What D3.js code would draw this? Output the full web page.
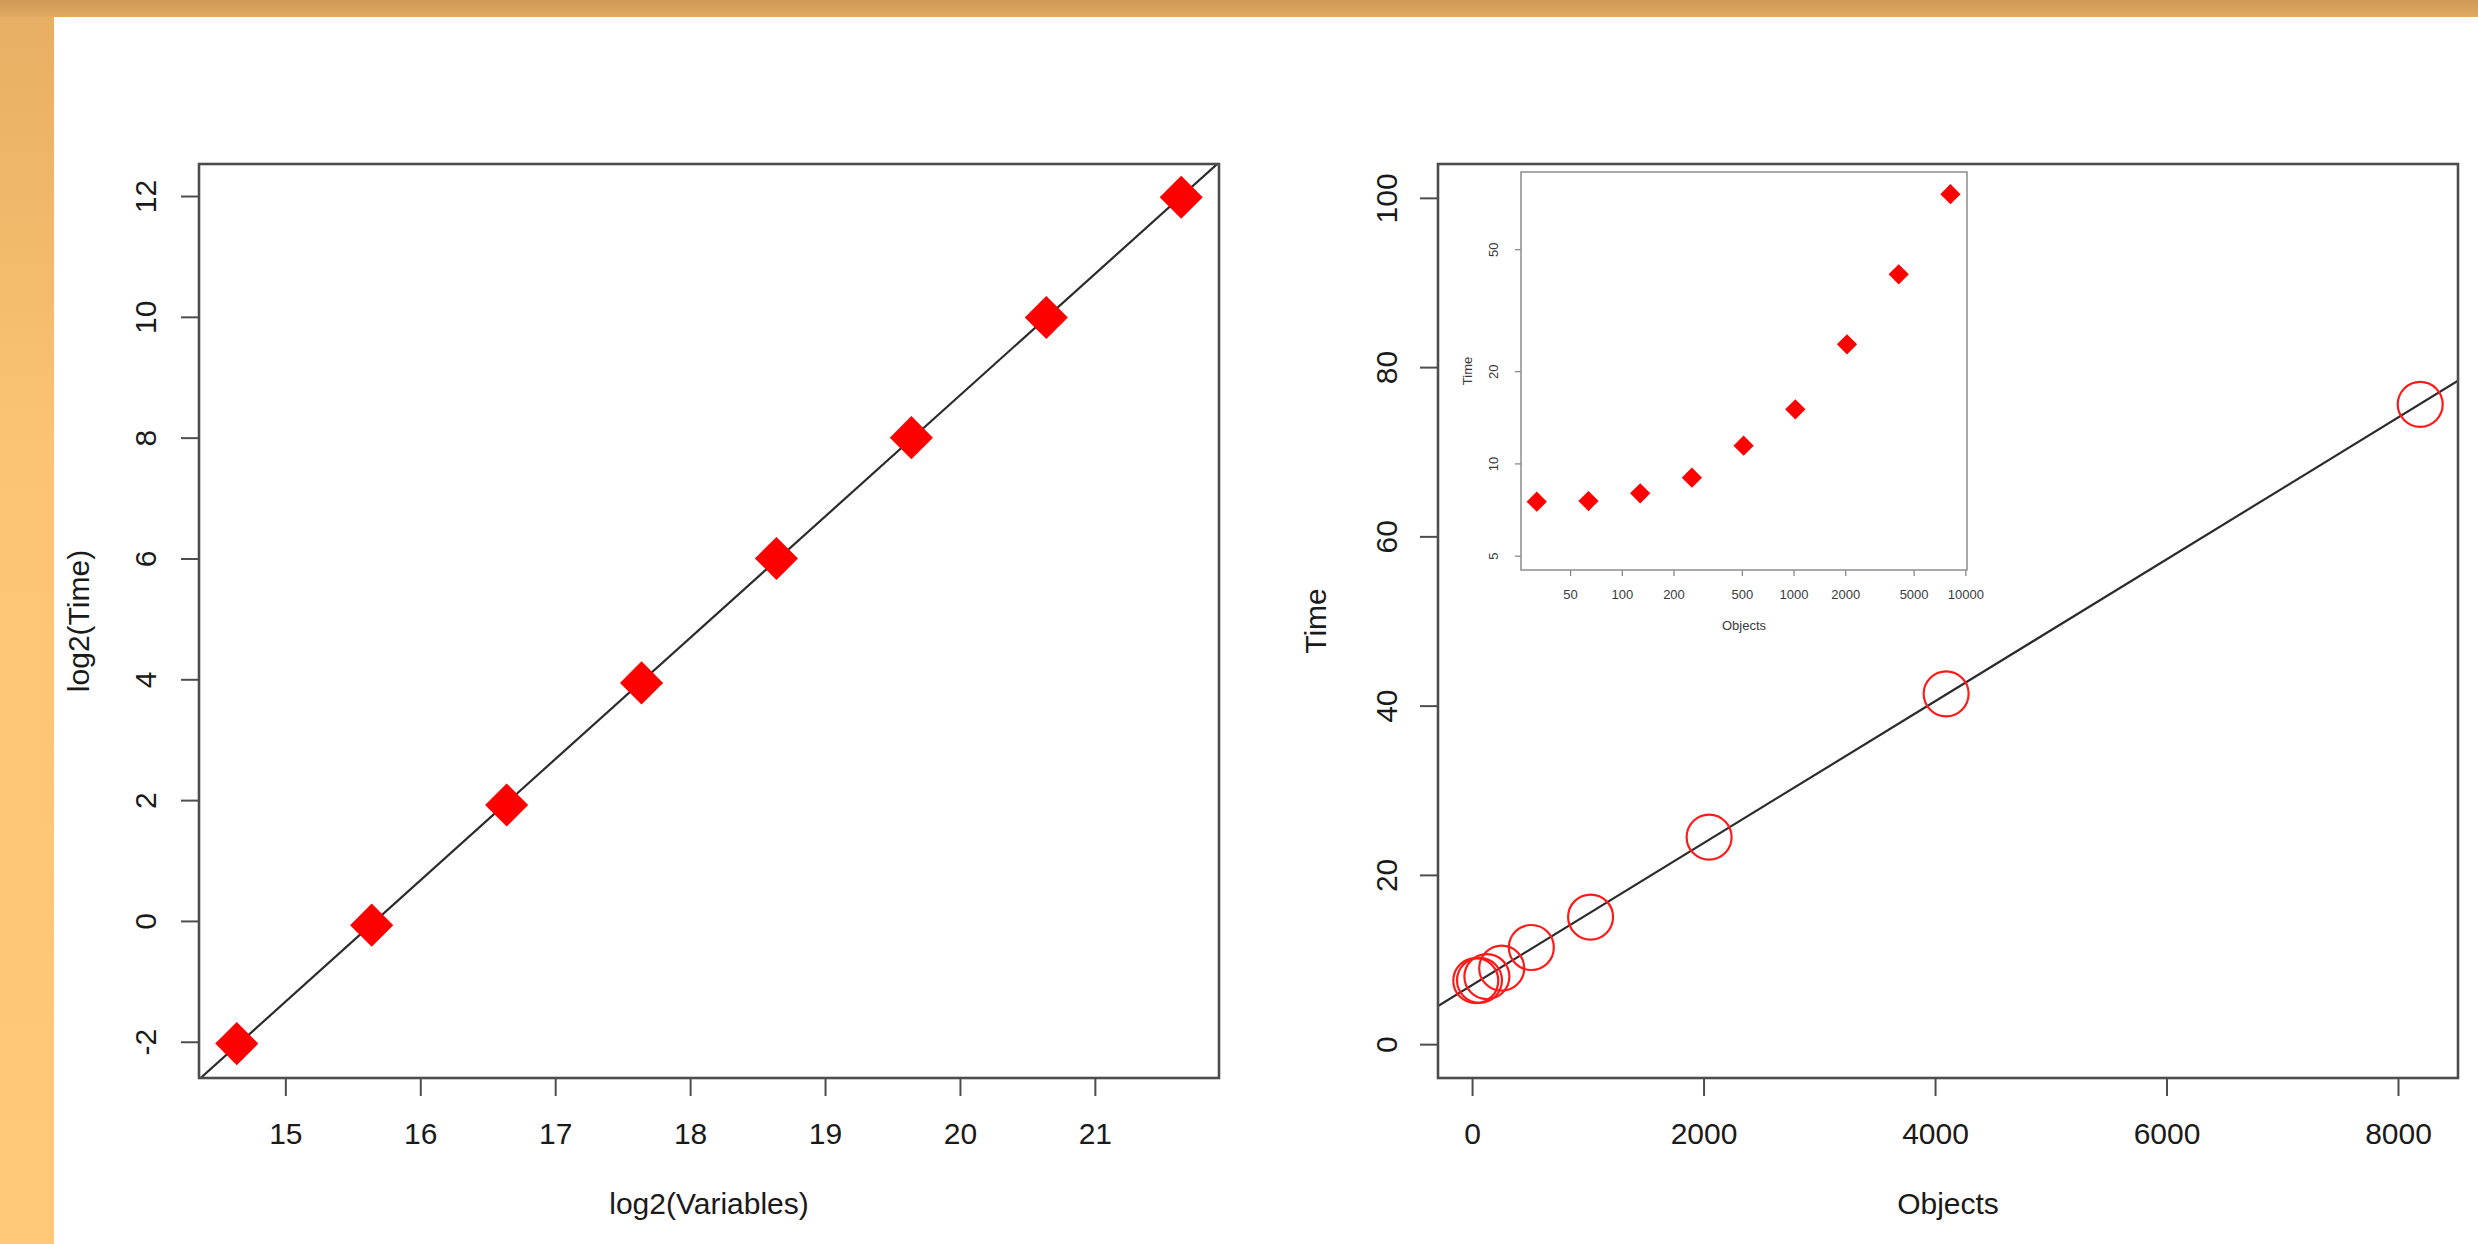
<!DOCTYPE html>
<html>
<head>
<meta charset="utf-8">
<script src="https://cdn.jsdelivr.net/npm/d3@7"></script>
<style>
  html, body { margin: 0; padding: 0; background: #fff; }
  svg { display: block; font-family: "Liberation Sans", Arial, Helvetica, sans-serif; }
</style>
</head>
<body>
<svg id="chart" width="2478" height="1244"></svg>
<script>
// left panel: log2 scale benchmark over variables
const log2Variables = [14.64, 15.64, 16.64, 17.64, 18.64, 19.64, 20.64, 21.64];
const log2Time = [-2.03, -0.07, 1.92, 3.94, 6.00, 8.00, 9.99, 11.98];
const leftXTicks = [15, 16, 17, 18, 19, 20, 21];
const leftYTicks = [-2, 0, 2, 4, 6, 8, 10, 12];

// right panel: time over objects (same data in the log-log inset)
const objects = [32, 64, 128, 256, 512, 1024, 2048, 4096, 8192];
const objTime = [7.50, 7.54, 7.99, 8.98, 11.42, 15.02, 24.46, 41.39, 75.6];
const rightXTicks = [0, 2000, 4000, 6000, 8000];
const rightYTicks = [0, 20, 40, 60, 80, 100];
const insetXTicks = [50, 100, 200, 500, 1000, 2000, 5000, 10000];
const insetYTicks = [5, 10, 20, 50];

const svg = d3.select("#chart");
const defs = svg.append("defs");

// page decoration (slide background)
const gTop = defs.append("linearGradient").attr("id", "gTop").attr("x1", 0).attr("y1", 0).attr("x2", 0).attr("y2", 1);
gTop.append("stop").attr("offset", "0%").attr("stop-color", "#d09856");
gTop.append("stop").attr("offset", "100%").attr("stop-color", "#e0aa63");
const gLeft = defs.append("linearGradient").attr("id", "gLeft").attr("x1", 0).attr("y1", 0).attr("x2", 0).attr("y2", 1);
gLeft.append("stop").attr("offset", "0%").attr("stop-color", "#e8ae63");
gLeft.append("stop").attr("offset", "35%").attr("stop-color", "#fcc373");
gLeft.append("stop").attr("offset", "100%").attr("stop-color", "#ffc977");

svg.append("rect").attr("x", 0).attr("y", 0).attr("width", 2478).attr("height", 1244).attr("fill", "#ffffff");
svg.append("rect").attr("x", 0).attr("y", 17).attr("width", 54).attr("height", 1227).attr("fill", "url(#gLeft)");
svg.append("rect").attr("x", 0).attr("y", 0).attr("width", 2478).attr("height", 17).attr("fill", "url(#gTop)");

const textColor = "#1a1a1a";
const frameColor = "#4d4d4d";
const plain = d => String(d); // R prints a plain hyphen for negatives

function styleAxis(g, opts) {
  g.select(".domain").remove();
  g.selectAll(".tick line").attr("stroke", opts.tickColor).attr("stroke-width", opts.tickWidth);
  g.selectAll(".tick text")
    .attr("fill", opts.textColor)
    .attr("font-size", opts.fontSize)
    .style("font-family", "'Liberation Sans', Arial, Helvetica, sans-serif");
}

function bottomAxis(g, scale, ticks, opts) {
  g.call(d3.axisBottom(scale).tickValues(ticks).tickFormat(plain).tickSize(opts.tickSize));
  styleAxis(g, opts);
  g.selectAll(".tick text").attr("y", opts.labelOffset).attr("dy", "0.35em");
}

function leftAxis(g, scale, ticks, opts) {
  g.call(d3.axisLeft(scale).tickValues(ticks).tickFormat(plain).tickSize(opts.tickSize));
  styleAxis(g, opts);
  g.selectAll(".tick text")
    .attr("x", 0).attr("y", 0).attr("dy", "0.35em")
    .attr("text-anchor", "middle")
    .attr("transform", `translate(${-opts.labelOffset},0) rotate(-90)`);
}

function fitLine(xs, ys) {
  const mx = d3.mean(xs), my = d3.mean(ys);
  const sxy = d3.sum(xs, (x, i) => (x - mx) * (ys[i] - my));
  const sxx = d3.sum(xs, x => (x - mx) * (x - mx));
  const b = sxy / sxx;
  return { a: my - b * mx, b: b };
}

const mainOpts = { tickSize: 18, tickColor: frameColor, tickWidth: 2, textColor: textColor, fontSize: 30 };

function panel(id, box, xDomain, yDomain, xs, ys, xTicks, yTicks, xTitle, yTitle, drawMarks) {
  const x = d3.scaleLinear().domain(xDomain).range([box.x0, box.x1]);
  const y = d3.scaleLinear().domain(yDomain).range([box.y1, box.y0]);

  defs.append("clipPath").attr("id", "clip-" + id)
    .append("rect").attr("x", box.x0).attr("y", box.y0)
    .attr("width", box.x1 - box.x0).attr("height", box.y1 - box.y0);

  bottomAxis(svg.append("g").attr("transform", `translate(0,${box.y1})`), x, xTicks,
    Object.assign({ labelOffset: 55 }, mainOpts));
  leftAxis(svg.append("g").attr("transform", `translate(${box.x0},0)`), y, yTicks,
    Object.assign({ labelOffset: box.yLabOff }, mainOpts));

  // least squares line, like abline(lm(...))
  const fit = fitLine(xs, ys);
  svg.append("line")
    .attr("clip-path", `url(#clip-${id})`)
    .attr("x1", x(xDomain[0])).attr("y1", y(fit.a + fit.b * xDomain[0]))
    .attr("x2", x(xDomain[1])).attr("y2", y(fit.a + fit.b * xDomain[1]))
    .attr("stroke", "#2b2b2b").attr("stroke-width", 2.2);

  drawMarks(x, y);

  svg.append("rect")
    .attr("x", box.x0).attr("y", box.y0)
    .attr("width", box.x1 - box.x0).attr("height", box.y1 - box.y0)
    .attr("fill", "none").attr("stroke", frameColor).attr("stroke-width", 2.6);

  svg.append("text")
    .attr("x", (box.x0 + box.x1) / 2).attr("y", 1203).attr("dy", "0.35em")
    .attr("text-anchor", "middle").attr("font-size", 30).attr("fill", textColor)
    .text(xTitle);
  svg.append("text")
    .attr("transform", `translate(${box.yTitleX},${(box.y0 + box.y1) / 2}) rotate(-90)`)
    .attr("dy", "0.35em")
    .attr("text-anchor", "middle").attr("font-size", 30).attr("fill", textColor)
    .text(yTitle);
}

const diamond = d3.symbol().type(d3.symbolSquare);

// ---- left panel ----
panel("left", { x0: 199, x1: 1219, y0: 164, y1: 1078, yLabOff: 54, yTitleX: 78 },
  [14.36, 21.92], [-2.6, 12.53], log2Variables, log2Time, leftXTicks, leftYTicks,
  "log2(Variables)", "log2(Time)",
  (x, y) => {
    svg.append("g").selectAll("path")
      .data(log2Variables)
      .join("path")
      .attr("d", diamond.size(930)())
      .attr("transform", (d, i) => `translate(${x(d)},${y(log2Time[i])}) rotate(45)`)
      .attr("fill", "#ff0000");
  });

// ---- right panel ----
panel("right", { x0: 1438, x1: 2458, y0: 164, y1: 1078, yLabOff: 52, yTitleX: 1315 },
  [-294.4, 8518.4], [-4, 104], objects, objTime, rightXTicks, rightYTicks,
  "Objects", "Time",
  (x, y) => {
    svg.append("g").selectAll("circle")
      .data(objects)
      .join("circle")
      .attr("cx", d => x(d))
      .attr("cy", (d, i) => y(objTime[i]))
      .attr("r", 22.5)
      .attr("fill", "none")
      .attr("stroke", "#ff1a1a")
      .attr("stroke-width", 2.2);
  });

// ---- inset: log-log view ----
const inset = { x0: 1521, x1: 1967, y0: 172, y1: 570 };
const ix = d3.scaleLog().domain([25.9, 10230]).range([inset.x0, inset.x1]);
const iy = d3.scaleLog().domain([4.49, 89.3]).range([inset.y1, inset.y0]);
const insetOpts = { tickSize: 6, tickColor: "#808080", tickWidth: 1.2, textColor: "#3a3a3a", fontSize: 13 };

svg.append("rect")
  .attr("x", inset.x0).attr("y", inset.y0)
  .attr("width", inset.x1 - inset.x0).attr("height", inset.y1 - inset.y0)
  .attr("fill", "#ffffff");

bottomAxis(svg.append("g").attr("transform", `translate(0,${inset.y1})`), ix, insetXTicks,
  Object.assign({ labelOffset: 24 }, insetOpts));
leftAxis(svg.append("g").attr("transform", `translate(${inset.x0},0)`), iy, insetYTicks,
  Object.assign({ labelOffset: 28 }, insetOpts));

svg.append("g").selectAll("path")
  .data(objects)
  .join("path")
  .attr("d", diamond.size(205)())
  .attr("transform", (d, i) => `translate(${ix(d)},${iy(objTime[i])}) rotate(45)`)
  .attr("fill", "#ff0000");

svg.append("rect")
  .attr("x", inset.x0).attr("y", inset.y0)
  .attr("width", inset.x1 - inset.x0).attr("height", inset.y1 - inset.y0)
  .attr("fill", "none").attr("stroke", "#8c8c8c").attr("stroke-width", 1.5);

svg.append("text")
  .attr("x", (inset.x0 + inset.x1) / 2).attr("y", 625).attr("dy", "0.35em")
  .attr("text-anchor", "middle").attr("font-size", 13).attr("fill", "#3a3a3a")
  .text("Objects");
svg.append("text")
  .attr("transform", `translate(1467,${(inset.y0 + inset.y1) / 2}) rotate(-90)`)
  .attr("dy", "0.35em")
  .attr("text-anchor", "middle").attr("font-size", 13).attr("fill", "#3a3a3a")
  .text("Time");
</script>
</body>
</html>
